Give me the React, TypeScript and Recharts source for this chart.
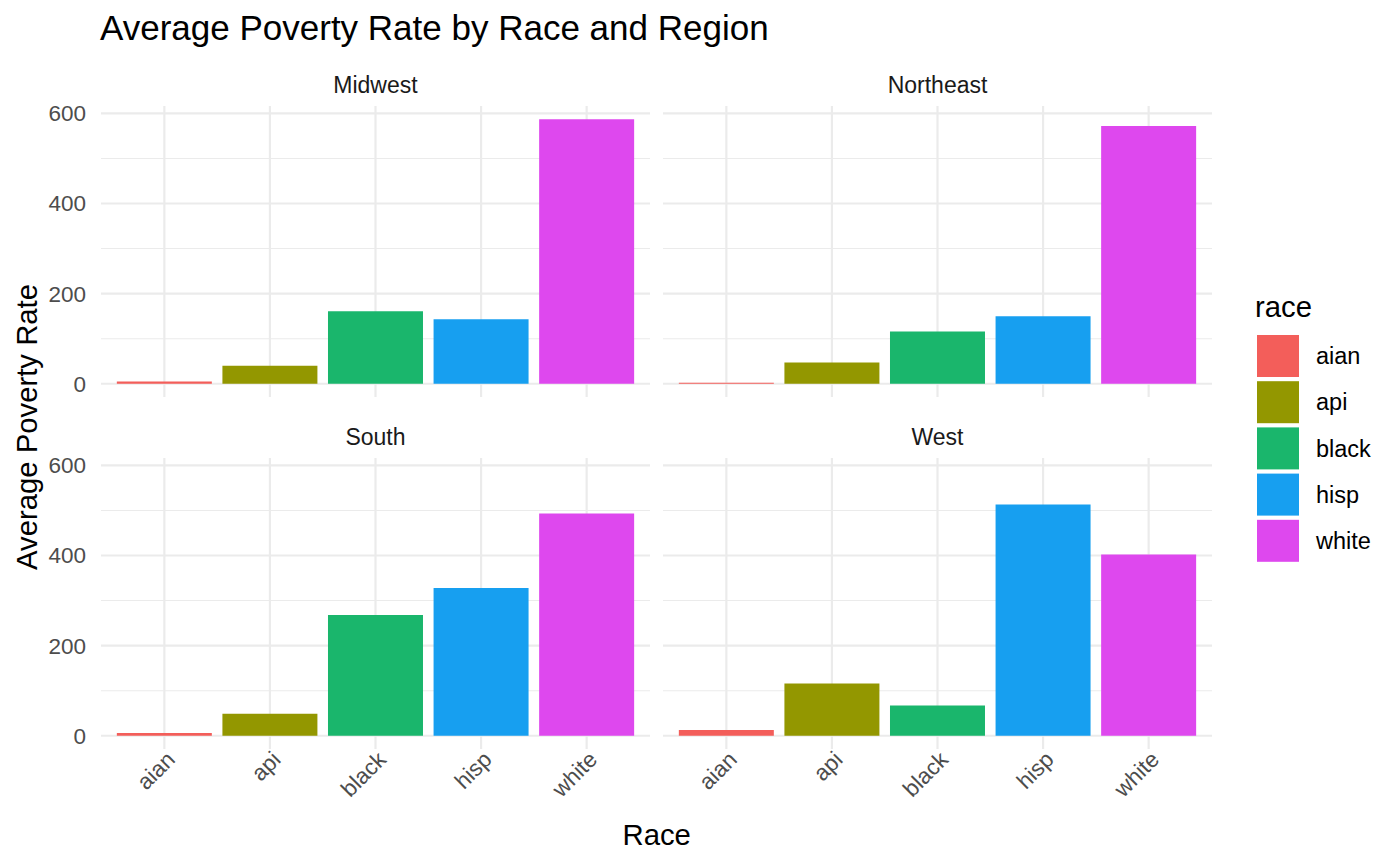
import { BarChart, Bar, XAxis, YAxis, CartesianGrid, Cell } from 'recharts';

const races = ['aian', 'api', 'black', 'hisp', 'white'];
const raceColors = ['#F35E5A', '#939700', '#1AB66C', '#179FF0', '#DE48EE'];
const regions = ['Midwest', 'Northeast', 'South', 'West'];
const midwestValues = [5, 40, 161, 143, 587];
const northeastValues = [2, 47, 116, 150, 572];
const southValues = [6, 49, 268, 328, 493];
const westValues = [13, 116, 67, 513, 402];
const yTicks = [0, 100, 200, 300, 400, 500, 600];
const yMajorTicks = [0, 200, 400, 600];

const regionValues = [midwestValues, northeastValues, southValues, westValues];

const FONT = '"Liberation Sans", Arial, Helvetica, sans-serif';
const GRID = '#EBEBEB';
const PANEL_W = 549;
const PANEL_H = 291;
const AXIS_W = 100;
const AXIS_H = 80;
const TOP_PAD = 20;
const panelLefts = [101, 663];
const panelTops = [106, 457.5];
const yDomain = [-29.35, 616.35];

// skip lines sitting on the panel border (ggplot draws none there)
const hLine = (props: any) => {
    const y = props.y1;
    if (Math.abs(y - TOP_PAD) < 1 || Math.abs(y - (TOP_PAD + PANEL_H)) < 1) return <g key={`h-${props.index}`} />;
    return (
        <line
            key={`h-${props.index}`}
            x1={props.x1}
            x2={props.x2}
            y1={y}
            y2={props.y2}
            stroke={GRID}
            strokeWidth={props.index % 2 === 0 ? 2.2 : 1.1}
        />
    );
};

const vLine = (props: any) => {
    const x = props.x1;
    if (Math.abs(x - AXIS_W) < 1 || Math.abs(x - (AXIS_W + PANEL_W)) < 1) return <g key={`v-${props.index}`} />;
    return (
        <line
            key={`v-${props.index}`}
            x1={x}
            x2={props.x2}
            y1={props.y1}
            y2={props.y2}
            stroke={GRID}
            strokeWidth={2.2}
        />
    );
};

const YTick = ({ x, y, payload }: any) => {
    if (!yMajorTicks.includes(payload.value)) return <g />;
    return (
        <text x={x} y={y} dy="0.35em" textAnchor="end" fill="#4D4D4D" fontSize={22.5} fontFamily={FONT}>
            {payload.value}
        </text>
    );
};

const XTick = ({ x, y, payload }: any) => {
    const tx = x + 12;
    const ty = y + 12;
    return (
        <text
            x={tx}
            y={ty}
            textAnchor="end"
            transform={`rotate(-45, ${tx}, ${ty})`}
            fill="#4D4D4D"
            fontSize={22.5}
            fontFamily={FONT}
        >
            {payload.value}
        </text>
    );
};

const Panel = ({ index }: { index: number }) => {
    const col = index % 2;
    const row = Math.floor(index / 2);
    const data = races.map((race, i) => ({ race, value: regionValues[index][i] }));

    return (
        <div style={{ position: 'absolute', left: panelLefts[col] - AXIS_W, top: panelTops[row] - TOP_PAD }}>
            <BarChart
                width={PANEL_W + AXIS_W}
                height={PANEL_H + AXIS_H + TOP_PAD}
                data={data}
                margin={{ top: TOP_PAD, right: 0, bottom: 0, left: 0 }}
                barCategoryGap="5%"
            >
                <CartesianGrid horizontal={hLine} vertical={vLine} />
                <XAxis
                    dataKey="race"
                    type="category"
                    padding={{ left: 10.56, right: 10.56 }}
                    height={AXIS_H}
                    axisLine={false}
                    tickLine={false}
                    tickSize={0}
                    tickMargin={0}
                    interval={0}
                    tick={row === 1 ? XTick : () => <g />}
                />
                <YAxis
                    type="number"
                    domain={yDomain}
                    ticks={yTicks}
                    interval={0}
                    width={AXIS_W}
                    axisLine={false}
                    tickLine={false}
                    tickSize={0}
                    tickMargin={15}
                    tick={col === 0 ? YTick : () => <g />}
                />
                <Bar dataKey="value" isAnimationActive={false}>
                    {data.map((d, i) => (
                        <Cell key={d.race} fill={raceColors[i]} />
                    ))}
                </Bar>
            </BarChart>
        </div>
    );
};

export default function App() {
    return (
        <div style={{ position: 'absolute', left: 0, top: 0, width: 1400, height: 865, background: '#fff', fontFamily: FONT }}>
            <svg width={1400} height={865} style={{ position: 'absolute', left: 0, top: 0 }}>
                <text x={100} y={40} fontSize={35} fill="#000" fontFamily={FONT}>
                    Average Poverty Rate by Race and Region
                </text>
                {regions.map((r, i) => (
                    <text
                        key={r}
                        x={panelLefts[i % 2] + PANEL_W / 2}
                        y={i < 2 ? 93 : 444.5}
                        textAnchor="middle"
                        fontSize={23}
                        fill="#1A1A1A"
                        fontFamily={FONT}
                    >
                        {r}
                    </text>
                ))}
                <text
                    x={37}
                    y={427}
                    textAnchor="middle"
                    transform="rotate(-90, 37, 427)"
                    fontSize={29.3}
                    fill="#000"
                    fontFamily={FONT}
                >
                    Average Poverty Rate
                </text>
                <text x={656.7} y={845} textAnchor="middle" fontSize={29.3} fill="#000" fontFamily={FONT}>
                    Race
                </text>
                <text x={1255} y={317} fontSize={29.3} fill="#000" fontFamily={FONT}>
                    race
                </text>
                {races.map((r, i) => (
                    <g key={r}>
                        <rect x={1257} y={335 + 46.2 * i} width={42} height={42} fill={raceColors[i]} />
                        <text x={1316} y={356 + 46.2 * i} dy="0.35em" fontSize={23.5} fill="#000" fontFamily={FONT}>
                            {r}
                        </text>
                    </g>
                ))}
            </svg>
            {regions.map((r, i) => (
                <Panel key={r} index={i} />
            ))}
        </div>
    );
}
